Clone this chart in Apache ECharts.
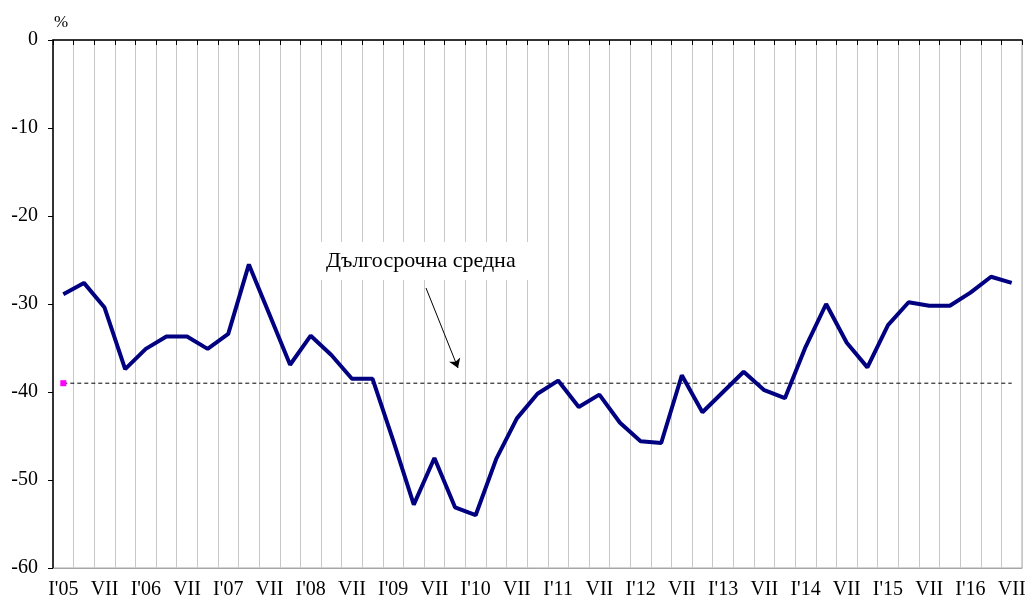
<!DOCTYPE html>
<html lang="bg">
<head>
  <meta charset="UTF-8">
  <title>Дългосрочна средна</title>
  <script src="https://cdn.jsdelivr.net/npm/echarts@6/dist/echarts.min.js"></script>
</head>
<body style="margin:0;background:#fff;">
  <div id="main" style="width:1032px;height:601px;"></div>
  <script type="text/javascript">
    // тримесечия I'05 .. VII'16
    var quarters = [
      "I'05", "IV", "VII", "X", "I'06", "IV", "VII", "X", "I'07", "IV", "VII", "X",
      "I'08", "IV", "VII", "X", "I'09", "IV", "VII", "X", "I'10", "IV", "VII", "X",
      "I'11", "IV", "VII", "X", "I'12", "IV", "VII", "X", "I'13", "IV", "VII", "X",
      "I'14", "IV", "VII", "X", "I'15", "IV", "VII", "X", "I'16", "IV", "VII"
    ];
    var balance = [
      -28.9, -27.6, -30.4, -37.4, -35.1, -33.7, -33.7, -35.1, -33.4, -25.5, -31.2, -36.9,
      -33.6, -35.8, -38.5, -38.5, -45.5, -52.8, -47.5, -53.1, -54.0, -47.6, -43.0, -40.2,
      -38.7, -41.7, -40.3, -43.5, -45.6, -45.8, -38.1, -42.3, -40.0, -37.7, -39.8, -40.7,
      -34.9, -30.0, -34.4, -37.2, -32.4, -29.8, -30.2, -30.2, -28.7, -26.9, -27.6
    ];
    var longTermAvg = -39;
    var yTicks = { min: -60, max: 0, step: 10 };

    var font = "'Liberation Serif', 'Times New Roman', serif";
    var myChart = echarts.init(document.getElementById('main'));

    var option = {
      animation: false,
      grid: {
        left: 53, right: 10, top: 40, bottom: 33,
        show: true, borderColor: '#a6a6a6', borderWidth: 1
      },
      xAxis: [
        {
          type: 'category',
          data: quarters,
          boundaryGap: true,
          position: 'bottom',
          axisLine: { onZero: false, lineStyle: { color: '#a6a6a6', width: 1 } },
          axisTick: { show: false },
          axisLabel: { interval: 1, margin: 12, color: '#000', fontFamily: font, fontSize: 20 },
          splitLine: { show: true, interval: 0, lineStyle: { color: '#c8c8c8', width: 1 } }
        },
        {
          type: 'category',
          data: quarters,
          boundaryGap: true,
          position: 'top',
          axisLine: { onZero: false, lineStyle: { color: '#000', width: 1.5 } },
          axisTick: { show: true, inside: true, interval: 0, length: 5, lineStyle: { color: '#000' } },
          axisLabel: { show: false },
          splitLine: { show: false }
        }
      ],
      yAxis: {
        type: 'value',
        min: yTicks.min,
        max: yTicks.max,
        interval: yTicks.step,
        name: '%',
        nameLocation: 'end',
        nameGap: 9,
        nameTextStyle: { color: '#000', fontFamily: font, fontSize: 17, align: 'left', padding: [0, 0, 0, 1] },
        axisLine: { show: true, lineStyle: { color: '#000', width: 1.5 } },
        axisTick: { show: true, length: 5, lineStyle: { color: '#000' } },
        axisLabel: { margin: 15, color: '#000', fontFamily: font, fontSize: 20 },
        splitLine: { show: false }
      },
      series: [
        {
          name: 'Дългосрочна средна',
          type: 'line',
          data: quarters.map(function () { return longTermAvg; }),
          symbol: 'rect',
          symbolSize: function (v, p) { return p.dataIndex === 0 ? 6 : 0; },
          showAllSymbol: true,
          itemStyle: { color: '#ff00ff' },
          lineStyle: { color: '#000', width: 1, type: [4, 3] },
          z: 2,
          markLine: {
            silent: true,
            symbol: ['none', 'arrow'],
            symbolSize: 9,
            lineStyle: { color: '#000', width: 1, type: 'solid' },
            label: { show: false },
            data: [[{ x: 426, y: 288 }, { x: 458, y: 368 }]]
          }
        },
        {
          name: 'balance',
          type: 'line',
          data: balance,
          symbol: 'none',
          lineStyle: { color: '#000080', width: 4 },
          z: 3
        }
      ],
      graphic: [
        {
          type: 'text',
          left: 320,
          top: 242,
          z: 10,
          style: {
            text: 'Дългосрочна средна',
            font: '22px ' + font,
            fill: '#000',
            backgroundColor: '#fff',
            padding: [8, 26, 8, 6]
          }
        }
      ]
    };

    myChart.setOption(option);
  </script>
</body>
</html>
